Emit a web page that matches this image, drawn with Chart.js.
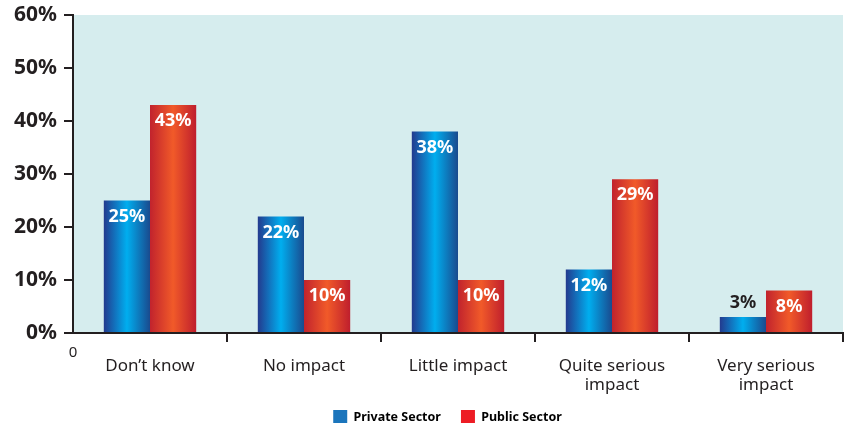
<!DOCTYPE html>
<html>
<head>
<meta charset="utf-8">
<script src="https://cdn.jsdelivr.net/npm/chart.js@4"></script>
<style>
  body { margin: 0; background: #fff; }
  canvas { display: block; }
</style>
</head>
<body>
<canvas id="impactChart" width="853" height="428"></canvas>
<script>
const categories = [["Don’t know"], ["No impact"], ["Little impact"], ["Quite serious", "impact"], ["Very serious", "impact"]];
const seriesNames = ["Private Sector", "Public Sector"];
const privateSector = [25, 22, 38, 12, 3];
const publicSector = [43, 10, 10, 29, 8];
const yTicks = [0, 10, 20, 30, 40, 50, 60];

const ink = '#231f20';
const fontFamily = '"Noto Sans", "DejaVu Sans", sans-serif';
const catPct = 0.6;

// horizontal shaded fill for each bar, dark edges and bright middle
function barFill(c, stops, flat) {
  const chart = c.chart;
  const x = chart.scales.x;
  if (c.type !== 'data' || !x || !chart.chartArea) return flat;
  const centre = x.getPixelForValue(c.dataIndex);
  const w = (x.width / categories.length) * catPct / 2;
  const left = c.datasetIndex === 0 ? centre - w : centre;
  const g = chart.ctx.createLinearGradient(left, 0, left + w, 0);
  g.addColorStop(0, stops[0]);
  g.addColorStop(0.5, stops[1]);
  g.addColorStop(1, stops[2]);
  return g;
}

// pale panel behind the bars
const panelBg = {
  id: 'panelBg',
  beforeDraw(chart) {
    const { ctx, chartArea: a } = chart;
    ctx.save();
    ctx.fillStyle = '#d6edee';
    ctx.fillRect(a.left, a.top, a.right - a.left, a.bottom - a.top);
    ctx.restore();
  }
};

// nudge the legend so it sits under the plot rather than the whole canvas
const legendShift = {
  id: 'legendShift',
  afterLayout(chart) {
    const lg = chart.legend;
    if (lg) {
      lg.left += 26;
      lg.right += 26;
      lg.top -= 5;
      lg.bottom -= 5;
    }
  }
};

// percentage printed at the top of every bar, plus the stray origin "0"
const valueLabels = {
  id: 'valueLabels',
  afterDatasetsDraw(chart) {
    const ctx = chart.ctx;
    ctx.save();
    ctx.font = 'bold 18px ' + fontFamily;
    ctx.textAlign = 'center';
    ctx.textBaseline = 'middle';
    chart.data.datasets.forEach((ds, i) => {
      chart.getDatasetMeta(i).data.forEach((el, j) => {
        const v = ds.data[j];
        if (v >= 5) {
          ctx.fillStyle = '#ffffff';
          ctx.fillText(v + '%', el.x, el.y + 16);
        } else {
          ctx.fillStyle = ink;
          ctx.fillText(v + '%', el.x, el.y - 14);
        }
      });
    });
    ctx.font = '15px ' + fontFamily;
    ctx.fillStyle = ink;
    ctx.fillText('0', chart.chartArea.left, chart.chartArea.bottom + 20);
    ctx.restore();
  }
};

new Chart(document.getElementById('impactChart'), {
  type: 'bar',
  data: {
    labels: categories,
    datasets: [
      {
        label: seriesNames[0],
        data: privateSector,
        backgroundColor: c => barFill(c, ['#233a8e', '#00aeef', '#1a4a8e'], '#1b75bc'),
        borderWidth: 0,
        categoryPercentage: catPct,
        barPercentage: 1
      },
      {
        label: seriesNames[1],
        data: publicSector,
        backgroundColor: c => barFill(c, ['#c1232d', '#f15a29', '#bf1e2d'], '#ed1c24'),
        borderWidth: 0,
        categoryPercentage: catPct,
        barPercentage: 1
      }
    ]
  },
  options: {
    responsive: false,
    animation: false,
    layout: { padding: { top: 15, right: 10, left: 0, bottom: 0 } },
    plugins: {
      tooltip: { enabled: false },
      legend: {
        position: 'bottom',
        maxHeight: 33,
        labels: {
          boxWidth: 14,
          boxHeight: 14,
          padding: 20,
          color: ink,
          font: { family: fontFamily, size: 12.5, weight: 'bold' },
          generateLabels: () => [
            { text: seriesNames[0], fillStyle: '#1b75bc', strokeStyle: '#1b75bc', lineWidth: 0, datasetIndex: 0 },
            { text: seriesNames[1], fillStyle: '#ed1c24', strokeStyle: '#ed1c24', lineWidth: 0, datasetIndex: 1 }
          ]
        }
      }
    },
    scales: {
      x: {
        afterFit: s => { s.height = 62; },
        border: { color: ink, width: 2 },
        grid: {
          offset: true,
          drawOnChartArea: false,
          tickLength: 9,
          lineWidth: 2,
          color: c => (c.index === 0 || c.index === categories.length) ? 'rgba(0,0,0,0)' : ink
        },
        ticks: {
          color: ink,
          padding: 15,
          maxRotation: 0,
          font: { family: fontFamily, size: 17, lineHeight: 1.12 }
        }
      },
      y: {
        min: yTicks[0],
        max: yTicks[yTicks.length - 1],
        afterFit: s => { s.width = 73; s.paddingTop = 0; },
        afterBuildTicks: s => { s.ticks = yTicks.map(v => ({ value: v })); },
        border: { color: ink, width: 2 },
        grid: {
          drawOnChartArea: false,
          tickLength: 9,
          lineWidth: 2,
          color: ink
        },
        ticks: {
          color: ink,
          padding: 7,
          font: { family: fontFamily, size: 21, weight: 'bold' },
          callback: v => v + '%'
        }
      }
    }
  },
  plugins: [panelBg, legendShift, valueLabels]
});
</script>
</body>
</html>
